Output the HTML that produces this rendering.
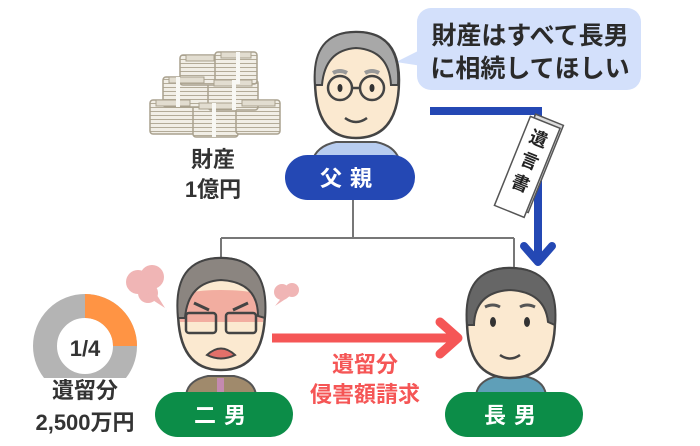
<!DOCTYPE html>
<html><head><meta charset="utf-8"><style>
html,body{margin:0;padding:0;background:#fff;}
svg{display:block;}
text{font-family:"Liberation Sans","Noto Sans CJK JP",sans-serif;font-weight:bold;}
</style></head><body>
<svg width="700" height="446" viewBox="0 0 700 446" xmlns="http://www.w3.org/2000/svg">
<defs>
<pattern id="bills" width="6" height="4" patternUnits="userSpaceOnUse">
<rect width="6" height="4" fill="#f1eee6"/><rect y="3" width="6" height="1" fill="#b3ab98"/>
</pattern>
</defs>
<!-- speech bubble -->
<rect x="417" y="8" width="224" height="82" rx="14" fill="#d3e0fb"/>
<polygon points="420,50 396,62 422,66" fill="#d3e0fb"/>
<text x="530" y="44" font-size="25" fill="#2a2a2a" text-anchor="middle">財産はすべて長男</text>
<text x="530" y="77" font-size="25" fill="#2a2a2a" text-anchor="middle">に相続してほしい</text>

<!-- money -->
<g stroke="#a9a18e" stroke-width="1.5" fill="url(#bills)">
<rect x="150" y="100" width="45" height="34" rx="3"/>
<rect x="193" y="103" width="45" height="34" rx="3"/>
<rect x="236" y="100" width="44" height="34" rx="3"/>
<rect x="163" y="77" width="47" height="30" rx="3"/>
<rect x="208" y="80" width="50" height="30" rx="3"/>
<rect x="180" y="55" width="40" height="30" rx="3"/>
<rect x="215" y="52" width="42" height="32" rx="3"/>
</g>
<g fill="#e2ddd0" stroke="#a9a18e" stroke-width="1">
<rect x="156" y="100" width="34" height="6"/><rect x="199" y="103" width="34" height="6"/><rect x="242" y="100" width="33" height="6"/>
<rect x="169" y="77" width="35" height="6"/><rect x="214" y="80" width="38" height="6"/><rect x="186" y="55" width="28" height="6"/><rect x="221" y="52" width="30" height="6"/>
</g>
<g fill="#f8f8f4"><rect x="176" y="77" width="4" height="30"/><rect x="232" y="80" width="4" height="30"/><rect x="212" y="103" width="4" height="34"/><rect x="236" y="52" width="4" height="32"/></g>
<text x="213" y="167" font-size="22" fill="#333" text-anchor="middle">財産</text>
<text x="213" y="197" font-size="22" fill="#333" text-anchor="middle">1億円</text>

<!-- tree lines -->
<g stroke="#777" stroke-width="2" fill="none">
<path d="M353,200 V238 M221,238 H514 M221,238 V262 M514,238 V282"/>
</g>

<!-- blue line -->
<path d="M430,111 H538 V258" stroke="#2448b4" stroke-width="8" fill="none"/>
<path d="M524,246 L538,262 L552,246" stroke="#2448b4" stroke-width="8" fill="none" stroke-linecap="round" stroke-linejoin="round"/>
<!-- document -->
<g transform="translate(528,165) rotate(22)">
<rect x="-12" y="-50" width="30" height="94" fill="#ddd" stroke="#555" stroke-width="1.5"/>
<rect x="-16" y="-46" width="32" height="96" fill="#fff" stroke="#555" stroke-width="1.5"/>
<text x="0" y="-22" font-size="18" fill="#222" text-anchor="middle">遺</text>
<text x="0" y="2" font-size="18" fill="#222" text-anchor="middle">言</text>
<text x="0" y="26" font-size="18" fill="#222" text-anchor="middle">書</text>
</g>

<!-- father -->
<path d="M312,162 Q316,146 336,142 H376 Q396,146 400,162 Z" fill="#b8cdf0" stroke="#555" stroke-width="2"/>
<path d="M315,80 Q315,32 356,32 Q399,32 399,80 Q399,138 356,138 Q315,138 315,80 Z" fill="#fbe9d0" stroke="#444" stroke-width="2.5"/>
<path d="M315,85 Q311,32 356,32 Q401,32 398,85 L391,85 Q389,50 356,48 Q325,50 322,85 Z" fill="#a8a8a8" stroke="#444" stroke-width="2"/>
<path d="M333,73 Q340,69 347,73 M365,73 Q372,69 379,73" stroke="#999" stroke-width="4" fill="none"/>
<circle cx="340" cy="88" r="12" fill="none" stroke="#444" stroke-width="2.5"/>
<circle cx="372" cy="88" r="12" fill="none" stroke="#444" stroke-width="2.5"/>
<path d="M352,88 H360" stroke="#444" stroke-width="2.5"/>
<ellipse cx="340" cy="88" rx="2.5" ry="4" fill="#333"/><ellipse cx="372" cy="88" rx="2.5" ry="4" fill="#333"/>
<path d="M345,118 Q356,126 367,118" stroke="#444" stroke-width="2.5" fill="none"/>
<rect x="285" y="155" width="130" height="45" rx="22.5" fill="#2448b4"/>
<text x="350" y="186" font-size="22" fill="#fff" text-anchor="middle" letter-spacing="8">父親</text>

<!-- puffs -->
<g fill="#f0b5b5">
<circle cx="138" cy="282" r="12"/><circle cx="152" cy="277" r="12"/><circle cx="148" cy="293" r="10"/><polygon points="145,295 165,308 155,292"/>
<circle cx="282" cy="292" r="8"/><circle cx="292" cy="290" r="7"/><polygon points="283,296 275,306 290,296"/>
</g>

<!-- second son -->
<path d="M186,395 Q188,380 208,376 H234 Q254,380 256,395 Z" fill="#a08a6c" stroke="#555" stroke-width="2"/>
<rect x="217" y="378" width="7" height="17" fill="#c48ab0"/>
<path d="M178,310 Q178,258 221,258 Q265,258 265,310 Q265,370 221,370 Q178,370 178,310 Z" fill="#fbe9d0" stroke="#444" stroke-width="2.5"/>
<path d="M180,300 Q182,290 221,290 Q262,290 263,300 L263,322 H180 Z" fill="#f2ada0"/>
<path d="M178,318 Q172,258 221,258 Q270,258 265,318 L258,316 Q258,282 221,280 Q188,282 185,318 Z" fill="#8b8580" stroke="#444" stroke-width="2"/>
<rect x="186" y="313" width="30" height="20" rx="3" fill="none" stroke="#444" stroke-width="2.5"/>
<rect x="226" y="313" width="30" height="20" rx="3" fill="none" stroke="#444" stroke-width="2.5"/>
<path d="M194,303 L209,310 M248,303 L233,310" stroke="#444" stroke-width="3"/>
<path d="M207,355 Q221,342 235,355 Q221,362 207,355 Z" fill="#e2706a" stroke="#444" stroke-width="2"/>
<rect x="155" y="392" width="138" height="45" rx="22.5" fill="#0c8d48"/>
<text x="224" y="423" font-size="22" fill="#fff" text-anchor="middle" letter-spacing="8">二男</text>

<!-- eldest son -->
<path d="M476,395 Q478,380 498,376 H524 Q544,380 546,395 Z" fill="#5f9fb8" stroke="#555" stroke-width="2"/>
<path d="M467,320 Q467,268 510,268 Q555,268 555,320 Q555,378 510,378 Q467,378 467,320 Z" fill="#fbe9d0" stroke="#444" stroke-width="2.5"/>
<path d="M467,325 Q462,268 510,268 Q560,268 555,325 L548,322 Q545,292 510,290 Q475,292 474,325 Z" fill="#666" stroke="#444" stroke-width="2"/>
<path d="M485,307 Q493,303 500,307 M520,307 Q527,303 535,307" stroke="#555" stroke-width="3" fill="none"/>
<ellipse cx="493" cy="322" rx="3" ry="5" fill="#333"/><ellipse cx="527" cy="322" rx="3" ry="5" fill="#333"/>
<path d="M500,355 Q510,362 520,355" stroke="#444" stroke-width="2.5" fill="none"/>
<rect x="445" y="392" width="138" height="45" rx="22.5" fill="#0c8d48"/>
<text x="514" y="423" font-size="22" fill="#fff" text-anchor="middle" letter-spacing="8">長男</text>

<!-- red arrow -->
<path d="M272,338 H455" stroke="#f55656" stroke-width="9"/>
<path d="M440,322 L458,338 L440,354" stroke="#f55656" stroke-width="9" fill="none" stroke-linecap="round" stroke-linejoin="round"/>
<text x="365" y="372" font-size="22" fill="#f55656" text-anchor="middle">遺留分</text>
<text x="365" y="402" font-size="22" fill="#f55656" text-anchor="middle">侵害額請求</text>

<!-- donut -->
<circle cx="85" cy="346" r="40" fill="none" stroke="#b4b4b4" stroke-width="24"/>
<path d="M85,294 A52,52 0 0 1 137,346 L113,346 A28,28 0 0 0 85,318 Z" fill="#ff9444"/>
<text x="85" y="356" font-size="22" fill="#333" text-anchor="middle">1/4</text>
<rect x="40" y="378" width="90" height="24" fill="#fff"/>
<text x="85" y="398" font-size="22" fill="#333" text-anchor="middle">遺留分</text>
<text x="85" y="430" font-size="22" fill="#333" text-anchor="middle">2,500万円</text>
</svg>
</body></html>
